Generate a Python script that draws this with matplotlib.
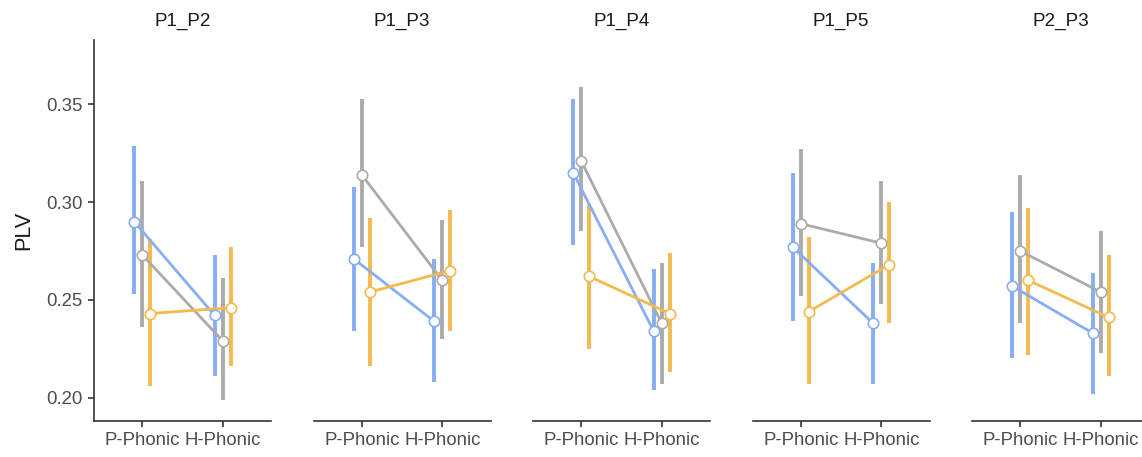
import matplotlib
matplotlib.use("Agg")
import matplotlib.pyplot as plt
import numpy as np

plt.rcParams["font.family"] = ["Liberation Sans", "DejaVu Sans"]

panels = ["P1_P2", "P1_P3", "P1_P4", "P1_P5", "P2_P3"]
conditions = ["P-Phonic", "H-Phonic"]
groups = ["blue", "gray", "orange"]
colors = {"blue": "#86AEF5", "gray": "#ABABAB", "orange": "#F5BA4F"}

# mean, lower, upper for [P-Phonic, H-Phonic] per panel
blue_mean = [[0.290, 0.242], [0.271, 0.239], [0.315, 0.234], [0.277, 0.238], [0.257, 0.233]]
blue_lo = [[0.253, 0.211], [0.234, 0.208], [0.278, 0.204], [0.239, 0.207], [0.220, 0.202]]
blue_hi = [[0.329, 0.273], [0.308, 0.271], [0.353, 0.266], [0.315, 0.269], [0.295, 0.264]]

gray_mean = [[0.273, 0.229], [0.314, 0.260], [0.321, 0.238], [0.289, 0.279], [0.275, 0.254]]
gray_lo = [[0.236, 0.199], [0.277, 0.230], [0.285, 0.207], [0.252, 0.248], [0.238, 0.223]]
gray_hi = [[0.311, 0.261], [0.353, 0.291], [0.359, 0.269], [0.327, 0.311], [0.314, 0.285]]

orange_mean = [[0.243, 0.246], [0.254, 0.265], [0.262, 0.243], [0.244, 0.268], [0.260, 0.241]]
orange_lo = [[0.206, 0.216], [0.216, 0.234], [0.225, 0.213], [0.207, 0.238], [0.222, 0.211]]
orange_hi = [[0.281, 0.277], [0.292, 0.296], [0.299, 0.274], [0.282, 0.300], [0.297, 0.273]]

data = {
    "blue": (blue_mean, blue_lo, blue_hi),
    "gray": (gray_mean, gray_lo, gray_hi),
    "orange": (orange_mean, orange_lo, orange_hi),
}
dodge = {"blue": -0.1, "gray": 0.0, "orange": 0.1}

fig = plt.figure(figsize=(11.42, 4.57), dpi=100)
W, H = 1142, 457
ax_left0, ax_w, step = 94, 177, 219.5
ax_top, ax_bot = 40, 421

axes_color = "#333333"
text_color = "#4D4D4D"

for i, name in enumerate(panels):
    left = ax_left0 + i * step
    ax = fig.add_axes([left / W, 1 - ax_bot / H, ax_w / W, (ax_bot - ax_top) / H])
    x = np.arange(1, len(conditions) + 1)

    for g in groups:
        mean, lo, hi = data[g]
        xs = x + dodge[g]
        ax.vlines(xs, lo[i], hi[i], color=colors[g], lw=2.8, zorder=1)
    for g in groups:
        mean, lo, hi = data[g]
        xs = x + dodge[g]
        ax.plot(xs, mean[i], color=colors[g], lw=2.0, zorder=2)
    for g in groups:
        mean, lo, hi = data[g]
        xs = x + dodge[g]
        ax.plot(xs, mean[i], "o", ms=7.5, mfc="white", mec=colors[g], mew=1.2, zorder=3)

    ax.set_xlim(0.4, 2.6)
    ax.set_ylim(0.188, 0.383)
    ax.set_xticks(x)
    ax.set_xticklabels(conditions, fontsize=13.4, color=text_color)
    ax.set_yticks([0.20, 0.25, 0.30, 0.35])
    ax.set_yticklabels(["0.20", "0.25", "0.30", "0.35"], fontsize=13.4, color=text_color)
    ax.tick_params(axis="both", length=4, width=1.2, color=axes_color, pad=4)
    ax.set_title(name, fontsize=13.6, color="#1A1A1A", pad=10)

    for s in ["top", "right"]:
        ax.spines[s].set_visible(False)
    ax.spines["bottom"].set_color(axes_color)
    ax.spines["bottom"].set_linewidth(1.2)
    if i == 0:
        ax.spines["left"].set_color(axes_color)
        ax.spines["left"].set_linewidth(1.2)
        ax.set_ylabel("PLV", fontsize=15.6, color="#1A1A1A", labelpad=9)
    else:
        ax.spines["left"].set_visible(False)
        ax.tick_params(axis="y", left=False, labelleft=False)

fig.savefig("out.png", dpi=100)
